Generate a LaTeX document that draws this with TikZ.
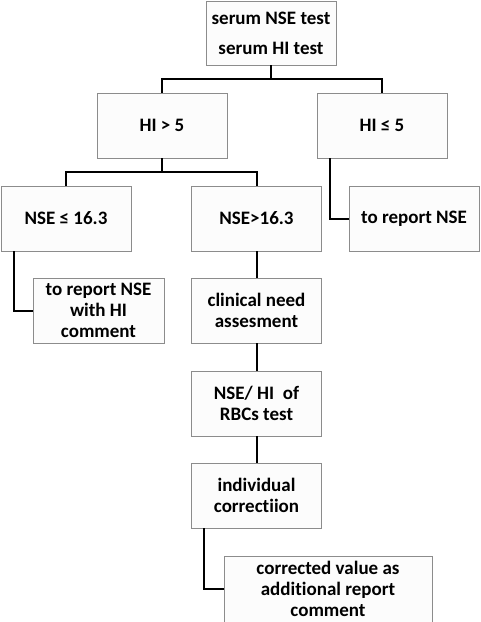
\documentclass[tikz,border=0pt]{standalone}
\usepackage{fontspec}
\setmainfont{Carlito}[Ligatures=NoCommon]
\begin{document}
\begin{tikzpicture}[x=1pt,y=-1pt,
  box/.style={draw=black!45, fill=black!1, line width=0.9pt, minimum width=130pt, minimum height=65pt, inner sep=2pt, align=center,
    font=\fontsize{19}{21}\selectfont\bfseries},
  conn/.style={draw=black, line width=2pt}]
\useasboundingbox (0,0) rectangle (480,622);
\node[box, minimum height=64pt] (top) at (271,33) {serum NSE test\\[9pt]serum HI test};
\node[box] (hi5) at (162,125.5) {HI > 5};
\node[box] (hile) at (382,125.5) {HI ≤ 5};
\node[box] (nsele) at (66,218.5) {NSE ≤ 16.3};
\node[box] (nsegt) at (256.5,218.5) {NSE>16.3};
\node[box] (rep) at (414,218.5) {to report NSE};
\node[box, minimum width=131pt] (rep2) at (98.5,310.5) {to report NSE\\with HI\\comment};
\node[box] (clin) at (256.5,310.5) {clinical need\\assesment};
\node[box] (rbc) at (256.5,403.5) {NSE/ HI~ of\\RBCs test};
\node[box] (ind) at (256.5,495.5) {individual\\correctiion};
\node[box, minimum width=208pt, minimum height=66pt] (corr) at (328,589) {corrected value as\\additional report\\comment};
\coordinate (j1) at (271,79);
\coordinate (j2) at (162,172);
\draw[conn] (top.south) -- (j1);
\draw[conn] (j1) -| (hi5.north);
\draw[conn] (j1) -| (hile.north);
\draw[conn] (hi5.south) -- (j2);
\draw[conn] (j2) -| (nsele.north);
\draw[conn] (j2) -| (nsegt.north);
\draw[conn] ([xshift=-52pt]hile.south) |- (rep.west);
\draw[conn] ([xshift=-52pt]nsele.south) |- (rep2.west);
\draw[conn] (nsegt.south) -- (clin.north);
\draw[conn] (clin.south) -- (rbc.north);
\draw[conn] (rbc.south) -- (ind.north);
\draw[conn] ([xshift=-52.5pt]ind.south) |- (corr.west);
\end{tikzpicture}
\end{document}
